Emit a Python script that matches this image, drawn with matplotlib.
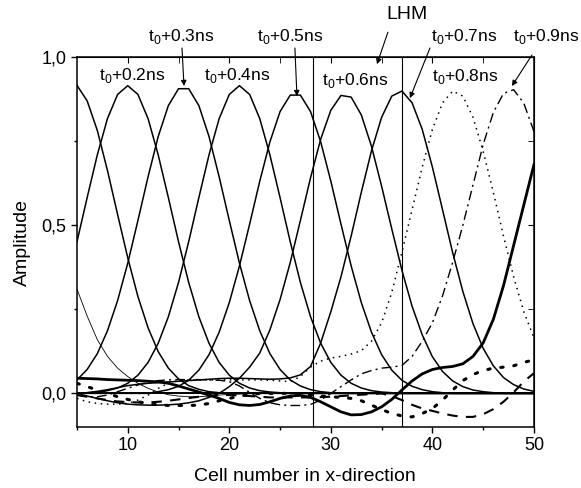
import matplotlib
matplotlib.use('Agg')
import matplotlib.pyplot as plt

plt.rcParams['font.family'] = ['Liberation Sans', 'DejaVu Sans']
plt.rcParams['font.size'] = 13

# cell positions along x
cells = list(range(5, 51))

# amplitude of each snapshot, one value per cell (5..50)
amp_t00 = [0.31, 0.23, 0.16, 0.11, 0.075, 0.05, 0.03, 0.015, 0.004, -0.004,
           -0.008, -0.01, -0.01, -0.008, -0.005, -0.003, -0.002, -0.001, 0, 0,
           0, 0, 0, 0, 0, 0, 0, 0, 0, 0, 0, 0, 0, 0, 0, 0, 0, 0, 0, 0,
           0, 0, 0, 0, 0, 0]
amp_t01 = [0.916, 0.870, 0.782, 0.663, 0.532, 0.403, 0.288, 0.195, 0.124, 0.075,
           0.043, 0.023, 0.012, 0.005, 0.002, 0, 0, 0, 0, 0,
           0, 0, 0, 0, 0, 0, 0, 0, 0, 0, 0, 0, 0, 0, 0, 0, 0, 0, 0, 0,
           0, 0, 0, 0, 0, 0]
amp_t02 = [0.451, 0.582, 0.709, 0.817, 0.889, 0.915, 0.889, 0.817, 0.709, 0.582,
           0.451, 0.330, 0.228, 0.149, 0.092, 0.054, 0.030, 0.016, 0.008, 0.004,
           0.002, 0, 0, 0, 0, 0, 0, 0, 0, 0, 0, 0, 0, 0, 0, 0, 0, 0, 0, 0,
           0, 0, 0, 0, 0, 0]
amp_t03 = [0.040, 0.071, 0.118, 0.186, 0.276, 0.387, 0.514, 0.644, 0.764, 0.856,
           0.906, 0.906, 0.856, 0.764, 0.644, 0.514, 0.387, 0.276, 0.186, 0.118,
           0.071, 0.040, 0.022, 0.011, 0.005, 0.002, 0, 0, 0, 0, 0, 0, 0, 0, 0, 0,
           0, 0, 0, 0, 0, 0, 0, 0, 0, 0]
amp_t04 = [0.001, 0.002, 0.004, 0.008, 0.016, 0.030, 0.054, 0.092, 0.149, 0.228,
           0.330, 0.451, 0.582, 0.709, 0.817, 0.889, 0.915, 0.889, 0.817, 0.709,
           0.582, 0.451, 0.330, 0.228, 0.149, 0.092, 0.054, 0.030, 0.016, 0.008,
           0.004, 0.002, 0, 0, 0, 0, 0, 0, 0, 0, 0, 0, 0, 0, 0, 0]
amp_t05 = [0, 0, 0, 0, 0, 0, 0, 0, 0.005, 0.011,
           0.021, 0.039, 0.069, 0.115, 0.182, 0.270, 0.379, 0.503, 0.631, 0.748,
           0.838, 0.887, 0.887, 0.838, 0.748, 0.631, 0.503, 0.379, 0.270, 0.182,
           0.115, 0.069, 0.039, 0.021, 0.011, 0.005, 0.002, 0, 0, 0,
           0, 0, 0, 0, 0, 0]
amp_t06 = [0.0, -0.008, -0.015, -0.022, -0.028, -0.032, -0.034, -0.035, -0.035, -0.034,
           -0.032, -0.028, -0.022, -0.012, 0.0, 0.02, 0.045, 0.078, 0.120, 0.189,
           0.279, 0.389, 0.514, 0.641, 0.756, 0.842, 0.886, 0.881, 0.828, 0.735,
           0.616, 0.489, 0.366, 0.259, 0.174, 0.109, 0.065, 0.037, 0.020, 0.010,
           0.005, 0.002, 0, 0, 0, 0]
amp_t07 = [0.0, 0.002, 0.006, 0.011, 0.017, 0.023, 0.027, 0.03, 0.032, 0.034,
           0.036, 0.038, 0.04, 0.042, 0.044, 0.045, 0.045, 0.044, 0.043, 0.042,
           0.043, 0.046, 0.055, 0.08, 0.15, 0.243, 0.347, 0.468, 0.598, 0.721,
           0.821, 0.884, 0.899, 0.864, 0.785, 0.673, 0.546, 0.418, 0.303, 0.207,
           0.134, 0.082, 0.047, 0.026, 0.013, 0.006]
amp_t08 = [-0.015, -0.025, -0.03, -0.032, -0.032, -0.03, -0.02, -0.005, 0.015, 0.03,
           0.038, 0.04, 0.04, 0.04, 0.04, 0.04, 0.04, 0.04, 0.04, 0.039,
           0.037, 0.035, 0.05, 0.078, 0.096, 0.105, 0.11, 0.117, 0.127, 0.155,
           0.21, 0.30, 0.42, 0.546, 0.673, 0.785, 0.864, 0.899, 0.884, 0.821,
           0.72, 0.598, 0.468, 0.347, 0.243, 0.165]
amp_t09 = [-0.005, -0.01, -0.01, -0.005, 0.005, 0.015, 0.025, 0.033, 0.038, 0.04,
           0.041, 0.041, 0.041, 0.04, 0.039, 0.035, 0.022, 0.003, -0.015, -0.028,
           -0.034, -0.036, -0.036, -0.033, -0.02, 0.0, 0.02, 0.04, 0.058, 0.068,
           0.075, 0.078, 0.083, 0.11, 0.155, 0.21, 0.29, 0.39, 0.5, 0.62,
           0.74, 0.835, 0.892, 0.903, 0.863, 0.779]
amp_t10 = [0.045, 0.044, 0.043, 0.041, 0.04, 0.039, 0.038, 0.036, 0.034, 0.03,
           0.022, 0.013, 0.004, -0.005, -0.015, -0.027, -0.034, -0.036, -0.033, -0.025,
           -0.015, -0.008, -0.006, -0.012, -0.025, -0.04, -0.055, -0.064, -0.063, -0.055,
           -0.04, -0.018, 0.01, 0.037, 0.058, 0.071, 0.077, 0.08, 0.088, 0.11,
           0.15, 0.22, 0.32, 0.44, 0.56, 0.68]
amp_t11 = [-0.005, -0.01, -0.015, -0.02, -0.024, -0.026, -0.027, -0.027, -0.025, -0.022,
           -0.018, -0.014, -0.01, -0.007, -0.005, -0.005, -0.006, -0.008, -0.01, -0.012,
           -0.012, -0.012, -0.012, -0.012, -0.011, -0.01, -0.008, -0.006, -0.004, -0.002,
           0.0, -0.008, -0.02, -0.034, -0.045, -0.052, -0.06, -0.066, -0.07, -0.07,
           -0.062, -0.047, -0.025, 0.003, 0.035, 0.06]
amp_t12 = [0.03, 0.02, 0.01, 0.0, -0.01, -0.018, -0.025, -0.03, -0.034, -0.036,
           -0.036, -0.036, -0.035, -0.03, -0.022, -0.015, -0.008, -0.004, 0.0, 0.0,
           0.0, 0.0, -0.002, -0.005, -0.008, -0.01, -0.012, -0.015, -0.022, -0.035,
           -0.048, -0.06, -0.067, -0.07, -0.06, -0.045, -0.02, 0.01, 0.038, 0.056,
           0.068, 0.075, 0.078, 0.082, 0.092, 0.10]

# LHM slab boundaries
lhm_edges = [28.2, 37.0]

fig = plt.figure(figsize=(5.81, 4.88), dpi=100)
ax = fig.add_axes([0.1325, 0.125, 0.7865, 0.758])

k = 'black'
ax.axhline(0, color=k, lw=1.4)
for xe in lhm_edges:
    ax.axvline(xe, color=k, lw=0.8)

ax.plot(cells, amp_t00, color=k, lw=0.6)
for amp in [amp_t01, amp_t02, amp_t03, amp_t04, amp_t05, amp_t06, amp_t07]:
    ax.plot(cells, amp, color=k, lw=1.1)
ax.plot(cells, amp_t08, color=k, lw=1.1, ls=(0, (1, 3)))
ax.plot(cells, amp_t09, color=k, lw=1.0, ls=(0, (7, 3, 1.5, 3)))
ax.plot(cells, amp_t10, color=k, lw=2.0)
ax.plot(cells, amp_t11, color=k, lw=1.5, ls=(0, (5, 4)))
ax.plot(cells, amp_t12, color=k, lw=2.2, ls=(0, (0.8, 3.5)), dash_capstyle='round')

ax.set_xlim(5, 50)
ax.set_ylim(-0.1, 1.0)
ax.set_xticks([10, 20, 30, 40, 50])
ax.set_xticks([5, 15, 25, 35, 45], minor=True)
ax.set_yticks([0.0, 0.5, 1.0])
ax.set_yticklabels(['0,0', '0,5', '1,0'])
ax.set_yticks([0.25, 0.75], minor=True)
ax.tick_params(which='major', direction='out', length=4.5, width=1, labelsize=13, pad=3)
ax.tick_params(which='minor', direction='out', length=2.5, width=1)
for sp in ax.spines.values():
    sp.set_linewidth(1.1)

top = ax.secondary_xaxis('top')
top.set_xticks([10, 20, 30, 40, 50])
top.set_xticks([15, 25, 35, 45], minor=True)
top.tick_params(which='both', direction='in', labeltop=False, length=4)
right = ax.secondary_yaxis('right')
right.set_yticks([0.0, 0.5, 1.0])
right.set_yticks([0.25, 0.75], minor=True)
right.tick_params(which='both', direction='in', labelright=False, length=4)

ax.set_xlabel('Cell number in x-direction', fontsize=14)
ax.set_ylabel('Amplitude', fontsize=14)
ax.xaxis.set_label_coords(0.499, -0.112)
ax.yaxis.set_label_coords(-0.1, 0.5)

# labels of the snapshots
def lab(s):
    return r't$_\mathregular{0}$+' + s

txt = dict(ha='center', va='center', fontsize=12.5, clip_on=False)
ax.text(10.4, 0.946, lab('0.2ns'), **txt)
ax.text(15.3, 1.062, lab('0.3ns'), **txt)
ax.text(20.75, 0.946, lab('0.4ns'), **txt)
ax.text(26.0, 1.062, lab('0.5ns'), **txt)
ax.text(37.5, 1.128, 'LHM', ha='center', va='center', fontsize=14, clip_on=False)
ax.text(32.4, 0.929, lab('0.6ns'), **txt)
ax.text(43.1, 1.062, lab('0.7ns'), **txt)
ax.text(43.2, 0.943, lab('0.8ns'), **txt)
ax.text(51.2, 1.062, lab('0.9ns'), **txt)

arr = dict(arrowstyle='-|>', lw=0.8, color=k, mutation_scale=8, shrinkA=0, shrinkB=0)
ax.annotate('', xy=(15.54, 0.914), xytext=(15.34, 1.027), arrowprops=arr, annotation_clip=False)
ax.annotate('', xy=(26.66, 0.884), xytext=(26.46, 1.027), arrowprops=arr, annotation_clip=False)
ax.annotate('', xy=(34.54, 0.979), xytext=(35.62, 1.074), arrowprops=arr, annotation_clip=False)
ax.annotate('', xy=(37.79, 0.878), xytext=(39.76, 1.027), arrowprops=arr, annotation_clip=False)
ax.annotate('', xy=(47.83, 0.914), xytext=(49.8, 1.006), arrowprops=arr, annotation_clip=False)

fig.savefig('out.png', dpi=100)
